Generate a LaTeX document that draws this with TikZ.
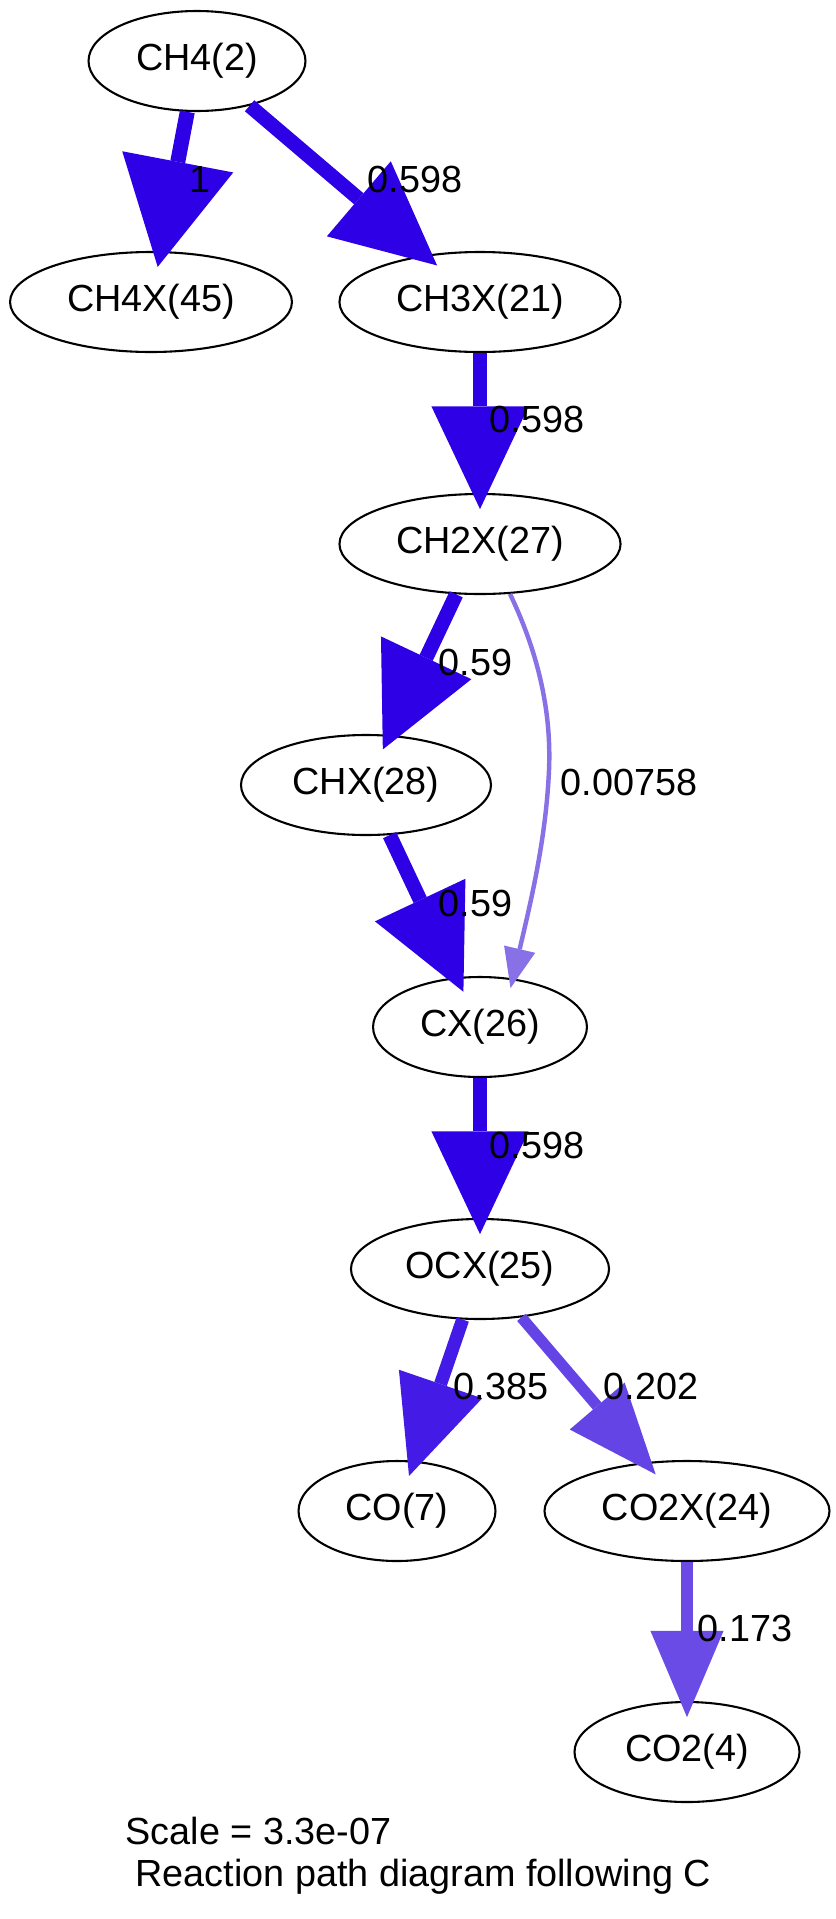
\documentclass[tikz,border=0pt]{standalone}
\usepackage{fontspec}
\setmainfont{Liberation Sans}
\usetikzlibrary{shapes.geometric,arrows.meta}

% edge colours by relative flux
\definecolor{fluxhi}{RGB}{46,0,230}
\definecolor{fluxco}{RGB}{67,26,230}
\definecolor{fluxcoz}{RGB}{101,68,230}
\definecolor{fluxcoo}{RGB}{106,75,230}
\definecolor{fluxlow}{RGB}{136,113,230}
\newcommand{\labfont}{\fontsize{13.6pt}{16pt}\selectfont}

\begin{document}
\begin{tikzpicture}[x=0.36pt,y=-0.36pt,
  species/.style={draw=black, ellipse, line width=0.75pt, minimum height=36pt,
                  inner sep=0pt, font=\labfont},
  fluxlabel/.style={font=\labfont, anchor=base west, inner sep=0pt},
  rxn/.style n args={4}{draw=#1, line width=#2,
      -{Triangle[length=#3,width=#4,line width=0pt]}, shorten >=-5.8pt}]

% canvas
\path[fill=white,use as bounding box] (0,0) rectangle (835,1919);

% species
\node[species, minimum width=78.1pt]  (ch4)  at (197,61)   {CH4(2)};
\node[species, minimum width=101.5pt] (ch4x) at (151,302)  {CH4X(45)};
\node[species, minimum width=101.2pt] (ch3x) at (480,302)  {CH3X(21)};
\node[species, minimum width=101.2pt] (ch2x) at (480,544)  {CH2X(27)};
\node[species, minimum width=90pt]    (chx)  at (366,785)  {CHX(28)};
\node[species, minimum width=77pt]    (cx)   at (480,1027) {CX(26)};
\node[species, minimum width=92.9pt]  (ocx)  at (480,1269) {OCX(25)};
\node[species, minimum width=70.9pt]  (co)   at (397,1511) {CO(7)};
\node[species, minimum width=102.6pt] (co2x) at (687,1511) {CO2X(24)};
\node[species, minimum width=81pt]    (co2)  at (687,1752) {CO2(4)};

% reaction paths
\draw[rxn={fluxhi}{5.4pt}{38.5pt}{40.7pt}] (ch4) -- (ch4x);
\draw[rxn={fluxhi}{5.2pt}{37pt}{35.5pt}]   (ch4) -- (ch3x);
\draw[rxn={fluxhi}{5.2pt}{37pt}{35pt}]     (ch3x) -- (ch2x);
\draw[rxn={fluxhi}{5.2pt}{36.5pt}{36pt}]   (ch2x) -- (chx);
\draw[rxn={fluxhi}{5.2pt}{36.5pt}{36pt}]   (chx) -- (cx);
\draw[rxn={fluxhi}{5.2pt}{37pt}{35pt}]     (cx) -- (ocx);
\draw[rxn={fluxco}{4.7pt}{35pt}{31.7pt}]   (ocx) -- (co);
\draw[rxn={fluxcoz}{4pt}{32.4pt}{26pt}]    (ocx) -- (co2x);
\draw[rxn={fluxcoo}{4.1pt}{31pt}{26.3pt}]  (co2x) -- (co2);
\draw[rxn={fluxlow}{1.6pt}{14.4pt}{11.5pt}, shorten >=-3.6pt]
  (ch2x.-59) .. controls (532,640) and (552,700) .. (549,770)
             .. controls (546,840) and (530,905) .. (cx.56);

% flux labels
\node[fluxlabel] (f1)  at (189,192)  {1};
\node[fluxlabel] (f2)  at (367,192)  {0.598};
\node[fluxlabel] (f3)  at (489,432)  {0.598};
\node[fluxlabel] (f4)  at (438,675)  {0.59};
\node[fluxlabel] (f5)  at (560,795)  {0.00758};
\node[fluxlabel] (f6)  at (438,916)  {0.59};
\node[fluxlabel] (f7)  at (489,1158) {0.598};
\node[fluxlabel] (f8)  at (453,1399) {0.385};
\node[fluxlabel] (f9)  at (603,1399) {0.202};
\node[fluxlabel] (f10) at (697,1641) {0.173};

% caption
\node[fluxlabel] (scale)   at (125,1844) {Scale = 3.3e-07};
\node[fluxlabel] (caption) at (135,1886) {Reaction path diagram following C};
\end{tikzpicture}
\end{document}
